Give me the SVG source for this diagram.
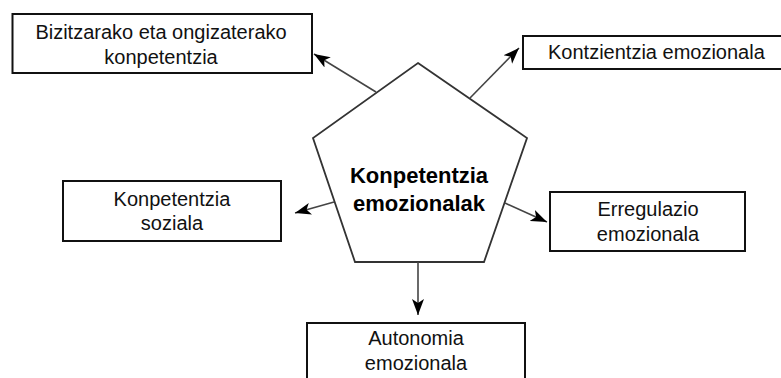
<svg xmlns="http://www.w3.org/2000/svg" width="781" height="378" viewBox="0 0 781 378">
<style>
.box{fill:#fff;stroke:#111;stroke-width:2}
.lbl{font-family:"Liberation Sans",Arial,sans-serif;font-size:20px;fill:#111;text-anchor:middle}
.ctr{font-family:"Liberation Sans",Arial,sans-serif;font-size:22px;font-weight:bold;fill:#000;text-anchor:middle}
.conn{stroke:#444;stroke-width:1.6;fill:none;marker-end:url(#ah)}
</style>
<defs>
<marker id="ah" markerUnits="userSpaceOnUse" markerWidth="18" markerHeight="14" refX="16" refY="7" orient="auto">
<path d="M0,1 L16,7 L0,13 L4,7 z" fill="#000"/>
</marker>
</defs>
<rect width="781" height="378" fill="#fff"/>
<g id="center">
<polygon points="418,63 527,138 484,262 355,262 313,138" fill="#fff" stroke="#333" stroke-width="1.8"/>
<text class="ctr" x="419" y="183">Konpetentzia</text>
<text class="ctr" x="419" y="211">emozionalak</text>
</g>
<g id="connectors">
<line class="conn" x1="376" y1="92" x2="314" y2="54"/>
<line class="conn" x1="470" y1="98" x2="519" y2="48"/>
<line class="conn" x1="334" y1="202" x2="295" y2="213"/>
<line class="conn" x1="505" y1="203" x2="547" y2="222"/>
<line class="conn" x1="418" y1="262" x2="418" y2="315"/>
</g>
<g id="bizitzarako">
<rect class="box" x="12.5" y="14" width="299.5" height="59"/>
<text class="lbl" x="161" y="38.5">Bizitzarako eta ongizaterako</text>
<text class="lbl" x="161" y="63.5">konpetentzia</text>
</g>
<g id="kontzientzia">
<rect class="box" x="523" y="36" width="270" height="33"/>
<text class="lbl" x="548" y="58.5" style="text-anchor:start">Kontzientzia emozionala</text>
</g>
<g id="soziala">
<rect class="box" x="63" y="181" width="218" height="60"/>
<text class="lbl" x="172" y="206">Konpetentzia</text>
<text class="lbl" x="172" y="230">soziala</text>
</g>
<g id="erregulazio">
<rect class="box" x="550" y="192" width="195" height="59"/>
<text class="lbl" x="648" y="216">Erregulazio</text>
<text class="lbl" x="648" y="241">emozionala</text>
</g>
<g id="autonomia">
<rect class="box" x="307" y="323" width="218" height="70"/>
<text class="lbl" x="416" y="345">Autonomia</text>
<text class="lbl" x="416" y="370">emozionala</text>
</g>
</svg>
